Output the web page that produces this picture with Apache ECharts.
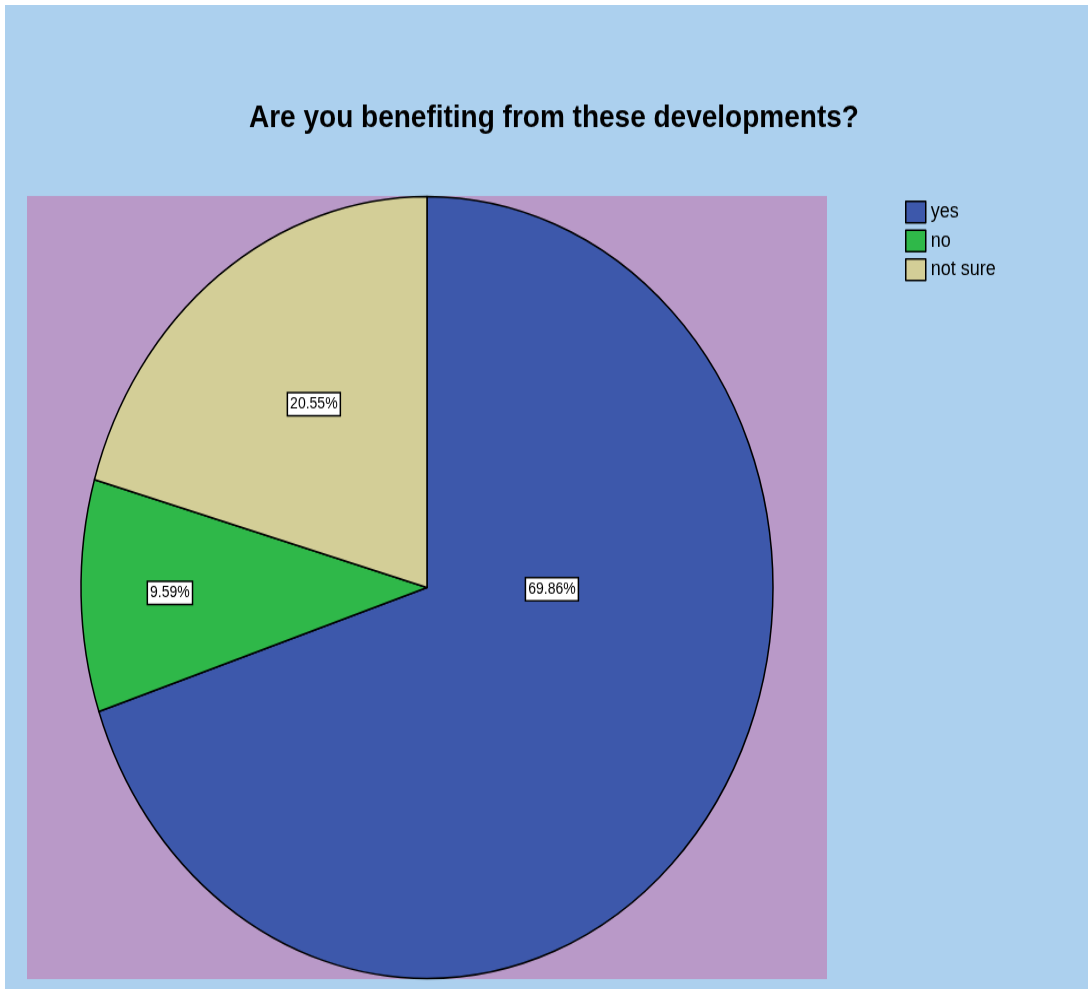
<!DOCTYPE html>
<html>
<head>
<meta charset="utf-8">
<script src="https://cdn.jsdelivr.net/npm/echarts@6/dist/echarts.min.js"></script>
<style>
  html, body { margin: 0; padding: 0; background: #ffffff; overflow: hidden; }
  /* The chart is laid out at a compressed height and stretched vertically,
     which gives the pie its tall oval shape. */
  #chart {
    position: absolute; left: 5px; top: 5px;
    width: 1083px; height: 870.8px;
    transform: scaleY(1.13); transform-origin: 0 0;
  }
</style>
</head>
<body>
<div id="chart"></div>
<script>
// Survey answers (percent of respondents)
const categories = ['yes', 'no', 'not sure'];
const percents = [69.86, 9.59, 20.55];
const sliceColors = ['#3d58ab', '#2fb849', '#d3ce97'];
const titleText = 'Are you benefiting from these developments?';

// Label anchors, relative to the pie centre in units of the radius
const labelOffsets = [[0.361, 0.004], [-0.743, 0.014], [-0.327, -0.469]];

const PIE_CX = 422, PIE_CY = 515.5, PIE_R = 346;

const chart = echarts.init(document.getElementById('chart'), null, { renderer: 'canvas' });

chart.setOption({
  backgroundColor: '#acd0ee',
  animation: false,
  title: {
    text: titleText,
    left: 239,
    top: 81,
    textStyle: { fontFamily: 'Liberation Sans', fontSize: 28, fontWeight: 'bold', color: '#000' }
  },
  graphic: [{
    type: 'rect',
    left: 22, top: 169, z: -10, silent: true,
    shape: { width: 800, height: 693 },
    style: { fill: '#b999c8' }
  }],
  legend: {
    orient: 'vertical',
    left: 895, top: 168,
    itemWidth: 20, itemHeight: 19, itemGap: 5,
    icon: 'rect',
    selectedMode: false,
    data: categories,
    itemStyle: { borderColor: '#000', borderWidth: 1.5 },
    textStyle: { fontFamily: 'Liberation Sans', fontSize: 18, color: '#000' }
  },
  series: [{
    type: 'pie',
    center: [PIE_CX, PIE_CY],
    radius: PIE_R,
    startAngle: 90,
    clockwise: true,
    silent: true,
    itemStyle: { borderColor: '#000', borderWidth: 1.5 },
    label: {
      show: true,
      position: 'inside',
      formatter: p => p.value.toFixed(2) + '%',
      fontFamily: 'Liberation Sans',
      fontSize: 14,
      color: '#000',
      backgroundColor: '#fff',
      borderColor: '#000',
      borderWidth: 1.5,
      padding: [3, 2, 2, 2]
    },
    labelLine: { show: false },
    labelLayout: params => {
      const o = labelOffsets[params.dataIndex];
      return {
        x: PIE_CX + o[0] * PIE_R,
        y: PIE_CY + o[1] * PIE_R,
        align: 'center',
        verticalAlign: 'middle'
      };
    },
    data: categories.map((name, i) => ({
      name: name,
      value: percents[i],
      itemStyle: { color: sliceColors[i] }
    }))
  }]
});
</script>
</body>
</html>
